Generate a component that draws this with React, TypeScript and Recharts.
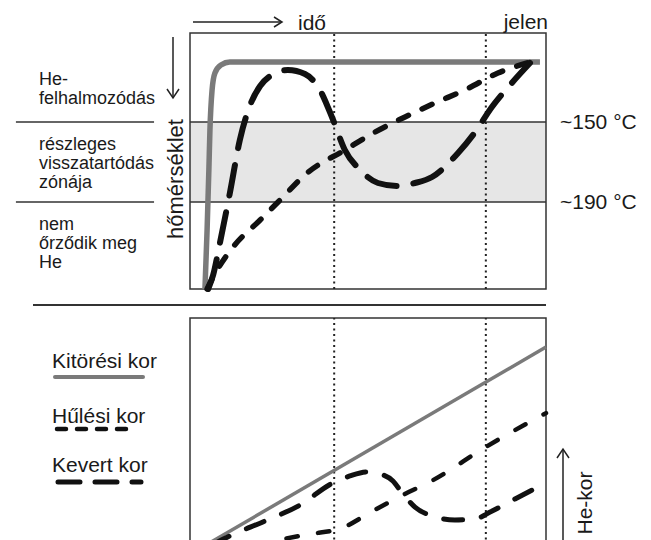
import React from "react";
import {
  Line,
  LineChart,
  ReferenceArea,
  ReferenceLine,
  XAxis,
  YAxis,
} from "recharts";

// time runs 0 (start) -> 100 (present) in both panels
// top panel: temperature (°C), shown cold at top
const eruptionTime = [4.2, 4.8, 5.3, 5.6, 6.2, 7.0, 8.7, 11.2, 98.3];
const eruptionTemp = [233.5, 204, 174, 154, 134, 125.5, 121.5, 120, 120];

const coolingTime = [4.8, 6.5, 12.1, 19.7, 25.3, 32.9, 43.5, 52, 60.4, 68.8, 77.2, 86.5, 95.5];
const coolingTemp = [233.5, 227.5, 212.5, 199, 189, 175.5, 164, 155, 147.5, 140.5, 134, 125.5, 120];

const mixedTime = [
  5.1, 6.5, 8.4, 11.2, 14, 16.9, 19.7, 23, 27.5, 32.3, 36.5, 40.2, 43.5, 47.8,
  52.8, 58.1, 63.2, 68, 75.3, 80.1, 84.8, 89.9, 95.5,
];
const mixedTemp = [
  233.5, 226.5, 210.5, 185.5, 159, 141.5, 132, 126.5, 124, 126, 134, 149, 164,
  174, 180.5, 182, 180.5, 177.5, 165.5, 155, 142.5, 131.5, 120.5,
];

// bottom panel: He age (relative units)
const eruptionAgeTime = [4.5, 100];
const eruptionAge = [0, 87.2];

const coolingAgeTime = [18.3, 26.1, 33.7, 42.7, 50.8, 59.8, 68.3, 83.1, 100];
const coolingAge = [0, 2.6, 4.8, 7.5, 14.5, 22, 28.6, 43.2, 58.1];

const mixedAgeTime = [
  6.2, 11.2, 21.1, 30.9, 39.6, 44.9, 49.7, 53.4, 57, 59.6, 63.2, 68, 74.4, 80.1,
  84.3, 91.3, 100,
];
const mixedAge = [
  0, 4, 10.6, 17.6, 26.9, 30.4, 32.2, 31.3, 28.2, 22.9, 16.7, 12.8, 11, 11.5,
  14.5, 20.3, 27.3,
];

const zoneTemps = [150, 190];
const markerTimes = [40.5, 83.1];

const leftNotes = [
  { lines: ["He-", "felhalmozódás"], y: 85 },
  { lines: ["részleges", "visszatartódás", "zónája"], y: 150 },
  { lines: ["nem", "őrződik meg", "He"], y: 230 },
];

const legendItems = ["Kitörési kor", "Hűlési kor", "Kevert kor"];

const pairs = (xs: number[], ys: number[]) => xs.map((t, i) => ({ t, v: ys[i] }));

const GREY = "#7a7a7a";
const INK = "#111";
const TEXT = "#1a1a1a";
const FONT = '"Liberation Sans", Arial, sans-serif';

export default function App() {
  return (
    <div
      style={{
        position: "fixed",
        left: 0,
        top: 0,
        width: 651,
        height: 540,
        overflow: "hidden",
        background: "#fff",
        fontFamily: FONT,
      }}
    >
      <div style={{ position: "absolute", left: 0, top: 0 }}>
        <LineChart
          width={651}
          height={300}
          margin={{ top: 33, right: 105, bottom: 11, left: 190 }}
        >
          <XAxis type="number" dataKey="t" domain={[0, 100]} hide />
          <YAxis type="number" domain={[105.5, 233.5]} reversed hide />
          <ReferenceArea
            x1={0}
            x2={100}
            y1={zoneTemps[0]}
            y2={zoneTemps[1]}
            fill="#e6e6e6"
            fillOpacity={1}
          />
          <ReferenceArea
            x1={0}
            x2={100}
            y1={105.5}
            y2={233.5}
            fill="none"
            stroke="#333"
            strokeWidth={1.5}
          />
          {zoneTemps.map((z) => (
            <ReferenceLine
              key={z}
              y={z}
              stroke="#333"
              strokeWidth={1.5}
              label={{
                value: `~${z} °C`,
                position: "right",
                offset: 14,
                fontSize: 21,
                fill: TEXT,
              }}
            />
          ))}
          {zoneTemps.map((z) => (
            <ReferenceLine
              key={`l${z}`}
              segment={[
                { x: -48.9, y: z },
                { x: -10.1, y: z },
              ]}
              ifOverflow="visible"
              stroke="#333"
              strokeWidth={1.5}
            />
          ))}
          {markerTimes.map((m) => (
            <ReferenceLine
              key={m}
              x={m}
              stroke="#222"
              strokeWidth={2}
              strokeDasharray="2 3.5"
            />
          ))}
          <Line
            data={pairs(eruptionTime, eruptionTemp)}
            dataKey="v"
            type="monotone"
            stroke={GREY}
            strokeWidth={5.5}
            dot={false}
            activeDot={false}
            isAnimationActive={false}
          />
          <Line
            data={pairs(coolingTime, coolingTemp)}
            dataKey="v"
            type="monotone"
            stroke={INK}
            strokeWidth={5.5}
            strokeDasharray="11 15"
            strokeLinecap="round"
            dot={false}
            activeDot={false}
            isAnimationActive={false}
          />
          <Line
            data={pairs(mixedTime, mixedTemp)}
            dataKey="v"
            type="monotone"
            stroke={INK}
            strokeWidth={6}
            strokeDasharray="31 17"
            strokeLinecap="round"
            dot={false}
            activeDot={false}
            isAnimationActive={false}
          />
        </LineChart>
      </div>

      <div style={{ position: "absolute", left: 0, top: 300 }}>
        <LineChart
          width={651}
          height={250}
          margin={{ top: 18, right: 105, bottom: 5, left: 190 }}
        >
          <XAxis type="number" dataKey="t" domain={[0, 100]} hide />
          <YAxis type="number" domain={[0, 100]} hide />
          <ReferenceArea
            x1={0}
            x2={100}
            y1={0}
            y2={100}
            fill="none"
            stroke="#333"
            strokeWidth={1.5}
          />
          <ReferenceLine
            segment={[
              { x: -44.1, y: 105.7 },
              { x: 100, y: 105.7 },
            ]}
            ifOverflow="visible"
            stroke="#333"
            strokeWidth={2}
          />
          {markerTimes.map((m) => (
            <ReferenceLine
              key={m}
              x={m}
              stroke="#222"
              strokeWidth={2}
              strokeDasharray="2 3.5"
            />
          ))}
          <Line
            data={pairs(eruptionAgeTime, eruptionAge)}
            dataKey="v"
            type="linear"
            stroke={GREY}
            strokeWidth={3.5}
            dot={false}
            activeDot={false}
            isAnimationActive={false}
          />
          <Line
            data={pairs(coolingAgeTime, coolingAge)}
            dataKey="v"
            type="monotone"
            stroke={INK}
            strokeWidth={4.5}
            strokeDasharray="11.5 20.5"
            strokeLinecap="round"
            dot={false}
            activeDot={false}
            isAnimationActive={false}
          />
          <Line
            data={pairs(mixedAgeTime, mixedAge)}
            dataKey="v"
            type="monotone"
            stroke={INK}
            strokeWidth={5}
            strokeDasharray="19 19"
            strokeLinecap="round"
            dot={false}
            activeDot={false}
            isAnimationActive={false}
          />
        </LineChart>
      </div>

      <svg
        width={651}
        height={540}
        style={{ position: "absolute", left: 0, top: 0, pointerEvents: "none" }}
        fontFamily={FONT}
      >
        {/* time arrow */}
        <line x1={193} y1={22} x2={281} y2={22} stroke="#222" strokeWidth={1.5} />
        <polyline points="274,17 282,22 274,27" fill="none" stroke="#222" strokeWidth={1.5} />
        <text x={298} y={30} fontSize={21} fill={TEXT}>idő</text>
        <text x={548} y={29} fontSize={21} fill={TEXT} textAnchor="end">jelen</text>

        {/* temperature arrow */}
        <line x1={173} y1={37} x2={173} y2={98} stroke="#222" strokeWidth={1.5} />
        <polyline points="167,89 173,98 179,89" fill="none" stroke="#222" strokeWidth={1.5} />
        <text
          transform="translate(183,179) rotate(-90)"
          fontSize={22}
          fill={TEXT}
          textAnchor="middle"
        >
          hőmérséklet
        </text>

        {leftNotes.map((n) =>
          n.lines.map((l, i) => (
            <text key={l + n.y} x={39} y={n.y + i * 19} fontSize={18} fill={TEXT}>
              {l}
            </text>
          ))
        )}

        {/* legend */}
        <text x={52} y={368} fontSize={21} fill={TEXT}>{legendItems[0]}</text>
        <line x1={55} y1={377} x2={143} y2={377} stroke={GREY} strokeWidth={4} strokeLinecap="round" />
        <text x={52} y={423} fontSize={21} fill={TEXT}>{legendItems[1]}</text>
        <line
          x1={57}
          y1={429}
          x2={137}
          y2={429}
          stroke={INK}
          strokeWidth={4.5}
          strokeDasharray="9 11"
          strokeLinecap="round"
        />
        <text x={52} y={472} fontSize={21} fill={TEXT}>{legendItems[2]}</text>
        <line
          x1={58}
          y1={482}
          x2={141}
          y2={482}
          stroke={INK}
          strokeWidth={5}
          strokeDasharray="22 15"
          strokeLinecap="round"
        />

        {/* age arrow */}
        <line x1={563} y1={540} x2={563} y2={449} stroke="#222" strokeWidth={1.5} />
        <polyline points="557,458 563,449 569,458" fill="none" stroke="#222" strokeWidth={1.5} />
        <text
          transform="translate(592,503) rotate(-90)"
          fontSize={21}
          fill={TEXT}
          textAnchor="middle"
        >
          He-kor
        </text>
      </svg>
    </div>
  );
}
